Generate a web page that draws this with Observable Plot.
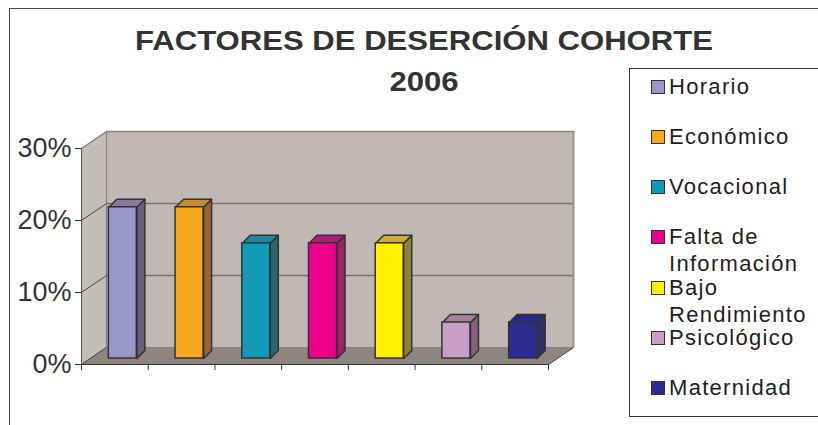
<!DOCTYPE html>
<html>
<head>
<meta charset="utf-8">
<script src="https://cdn.jsdelivr.net/npm/d3@7"></script>
<script src="https://cdn.jsdelivr.net/npm/@observablehq/plot@0.6"></script>
<style>
  html, body { margin: 0; padding: 0; background: #fff; overflow: hidden; }
  #wrap { position: relative; width: 818px; height: 425px; overflow: hidden; font-family: "Liberation Sans", Arial, sans-serif; }
  #outer { position: absolute; left: 9px; top: 8px; width: 900px; height: 500px; border-left: 1px solid #444; border-top: 1px solid #444; }
  #title { position: absolute; left: 124px; width: 600px; top: 20px; text-align: center; font-weight: bold; font-size: 28px; line-height: 41px; color: #333; transform: scaleX(1.11); transform-origin: 300px 0; }
  #chart { position: absolute; left: 0; top: 0; }
  #legend { position: absolute; left: 629px; top: 68px; width: 300px; height: 347px; border: 1px solid #333; border-right: none; }
  .item { position: absolute; left: 21px; display: flex; align-items: flex-start; }
  .sw { width: 12px; height: 12px; border: 1.5px solid #333; margin-top: 7px; margin-right: 4px; flex: none; }
  .lab { width: 145px; font-size: 22px; line-height: 27px; letter-spacing: 1.3px; color: #1e1e1e; }
</style>
</head>
<body>
<div id="wrap">
  <div id="outer"></div>
  <div id="chart"></div>
  <div id="title"></div>
  <div id="legend"></div>
</div>
<script>
const titleLines = ["FACTORES DE DESERCIÓN COHORTE", "2006"];
const categories = ["Horario", "Económico", "Vocacional", "Falta de Información", "Bajo Rendimiento", "Psicológico", "Maternidad"];
const values = [21, 21, 16, 16, 16, 5, 5];
const frontColors = ["#9b96c8", "#f6a81f", "#129bb9", "#ec008b", "#fff100", "#c99fc9", "#2a2c91"];
const sideColors  = ["#6a5f7e", "#9a6235", "#2b6670", "#9b2462", "#94803e", "#846379", "#2e2e6a"];
const topColors   = ["#877c9f", "#c68a30", "#1b8aa0", "#b51a7a", "#c7b12d", "#a8819e", "#26288a"];
const yTicks = [0, 10, 20, 30];

// title
document.getElementById("title").innerHTML = titleLines.join("<br>");

// depth of the 3D box (x units, y percent units) and bar depth
const n = categories.length;
const DX = 0.375, DY = 2.36;
const EX = 0.12, EY = 1.11;
const yMax = yTicks[yTicks.length - 1];

const poly = (id, fill, pts) => pts.map(([x, y]) => ({id, fill, x, y}));

const leftWall = poly("lw", "#c4bcb9", [[0, 0], [0, yMax], [DX, yMax + DY], [DX, DY]]);
const floor = poly("fl", "#8e8482", [[0, 0], [n, 0], [n + DX, DY], [DX, DY]]);
const backWall = [{x1: DX, x2: n + DX, y1: DY, y2: yMax + DY}];

const sideFaces = [], topFaces = [], frontFaces = [];
values.forEach((v, i) => {
  const x1 = i + 0.29, x2 = i + 0.71;
  sideFaces.push(...poly("s" + i, sideColors[i], [[x2, 0], [x2 + EX, EY], [x2 + EX, v + EY], [x2, v]]));
  topFaces.push(...poly("t" + i, topColors[i], [[x1, v], [x2, v], [x2 + EX, v + EY], [x1 + EX, v + EY]]));
  frontFaces.push({x1, x2, y1: 0, y2: v, fill: frontColors[i]});
});

const chart = Plot.plot({
  width: 818,
  height: 425,
  marginLeft: 81,
  marginRight: 270,
  marginTop: 148,
  marginBottom: 61,
  style: {fontFamily: "'Liberation Sans', Arial, sans-serif", background: "transparent", overflow: "visible"},
  x: {domain: [0, n], axis: null},
  y: {domain: [0, yMax], axis: null},
  color: {type: "identity"},
  marks: [
    Plot.line(leftWall, {x: "x", y: "y", z: "id", fill: "fill", stroke: "#8c8282", strokeWidth: 1, curve: "linear-closed"}),
    Plot.rect(backWall, {x1: "x1", x2: "x2", y1: "y1", y2: "y2", fill: "#c0b8b5"}),
    Plot.line(floor, {x: "x", y: "y", z: "id", fill: "fill", stroke: "#8c8282", strokeWidth: 1, curve: "linear-closed"}),
    Plot.ruleY(yTicks.slice(1, -1), {y: d => d + DY, x1: DX, x2: n + DX, stroke: "#777070", strokeWidth: 1.6}),
    Plot.ruleY([yMax], {y: d => d + DY, x1: DX, x2: n + DX, stroke: "#8c8282", strokeWidth: 1.6}),
    Plot.ruleX([n + DX], {y1: DY, y2: yMax + DY, stroke: "#9a9090", strokeWidth: 2}),
    Plot.ruleX([DX], {y1: DY, y2: yMax + DY, stroke: "#8c8282", strokeWidth: 1.2}),
    Plot.link(yTicks.slice(0, -1), {x1: 0, y1: d => d, x2: DX, y2: d => d + DY, stroke: "#444", strokeWidth: 1}),
    Plot.link([yMax], {x1: 0, y1: d => d, x2: DX, y2: d => d + DY, stroke: "#8c8282", strokeWidth: 1.2}),
    Plot.link([0], {x1: n, y1: 0, x2: n + DX, y2: DY, stroke: "#555", strokeWidth: 1}),
    // bars (placed mid-depth)
    Plot.line(sideFaces, {x: "x", y: "y", z: "id", fill: "fill", stroke: "#333", strokeWidth: 1.5, strokeLinejoin: "round", curve: "linear-closed", dx: 8, dy: -6}),
    Plot.line(topFaces, {x: "x", y: "y", z: "id", fill: "fill", stroke: "#333", strokeWidth: 1.5, strokeLinejoin: "round", curve: "linear-closed", dx: 8, dy: -6}),
    Plot.rect(frontFaces, {x1: "x1", x2: "x2", y1: "y1", y2: "y2", fill: "fill", stroke: "#333", strokeWidth: 1.5, dx: 8, dy: -6}),
    // axes
    Plot.ruleX([0], {y1: 0, y2: yMax, stroke: "#555", strokeWidth: 1}),
    Plot.ruleY([0], {x1: 0, x2: n, stroke: "#333", strokeWidth: 1.2}),
    Plot.axisY({ticks: yTicks, tickFormat: d => d + "%", tickSize: 6, tickPadding: 4, fontSize: 27, stroke: "#333", fill: "#333"}),
    Plot.axisX({ticks: d3.range(n + 1), tickFormat: () => "", tickSize: 6, stroke: "#333"})
  ]
});
document.getElementById("chart").append(chart);

// legend
const legend = document.getElementById("legend");
const legendTops = [4, 54, 104, 154, 205, 255, 305];
categories.forEach((c, i) => {
  const it = document.createElement("div");
  it.className = "item";
  it.style.top = legendTops[i] + "px";
  const sw = document.createElement("div");
  sw.className = "sw";
  sw.style.background = frontColors[i];
  const lab = document.createElement("div");
  lab.className = "lab";
  lab.textContent = c;
  it.append(sw, lab);
  legend.append(it);
});
</script>
</body>
</html>
